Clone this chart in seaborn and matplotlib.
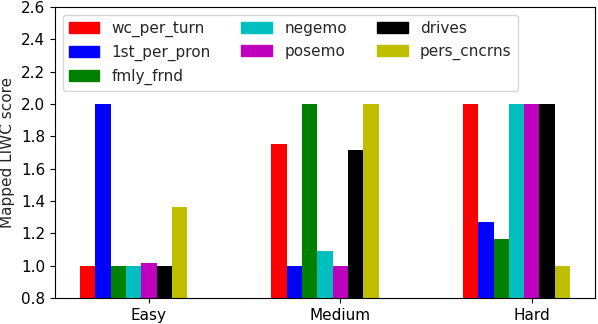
import numpy as np
import pandas as pd
import seaborn as sns
import matplotlib.pyplot as plt
from matplotlib.patches import Patch

levels = ["Easy", "Medium", "Hard"]
features = ["wc_per_turn", "1st_per_pron", "fmly_frnd", "negemo",
            "posemo", "drives", "pers_cncrns"]
colors = ["r", "b", "g", "c", "m", "k", "y"]

wc_per_turn = [1.0, 1.755, 2.0]
first_per_pron = [2.0, 1.0, 1.272]
fmly_frnd = [1.0, 2.0, 1.165]
negemo = [1.0, 1.09, 2.0]
posemo = [1.018, 1.0, 2.0]
drives = [1.0, 1.716, 2.0]
pers_cncrns = [1.362, 2.0, 1.0]

values = [wc_per_turn, first_per_pron, fmly_frnd, negemo, posemo, drives, pers_cncrns]

rows = []
for feat, vals in zip(features, values):
    for lvl, v in zip(levels, vals):
        rows.append({"level": lvl, "feature": feat, "score": v})
df = pd.DataFrame(rows)

sns.set_style("ticks")
plt.rcParams["font.family"] = ["DejaVu Sans"]
plt.rcParams["font.size"] = 11

fig, ax = plt.subplots(figsize=(5.98, 3.24), dpi=100)

# two empty slots so the group sits like the original (tick under the 5th bar)
hue_order = features + ["_pad1", "_pad2"]
palette = dict(zip(hue_order, colors + ["w", "w"]))
sns.barplot(data=df, x="level", y="score", hue="feature", hue_order=hue_order,
            palette=palette, order=levels, width=0.72, errorbar=None,
            saturation=1, linewidth=0, ax=ax, legend=False)

ax.set_ylim(0.8, 2.6)
ax.set_xlim(-0.49, 2.33)
ax.set_xlabel("")
ax.set_ylabel("Mapped LIWC score", fontsize=11)
for s in ax.spines.values():
    s.set_visible(True)
    s.set_color("black")
ax.tick_params(colors="black", direction="out", labelsize=11)

handles = [Patch(color=c, label=f) for f, c in zip(features, colors)]
ax.legend(handles=handles, loc="upper left", ncol=3, fontsize=11)

fig.subplots_adjust(left=0.092, right=0.995, top=0.978, bottom=0.08)
fig.savefig("out.png", dpi=100)
